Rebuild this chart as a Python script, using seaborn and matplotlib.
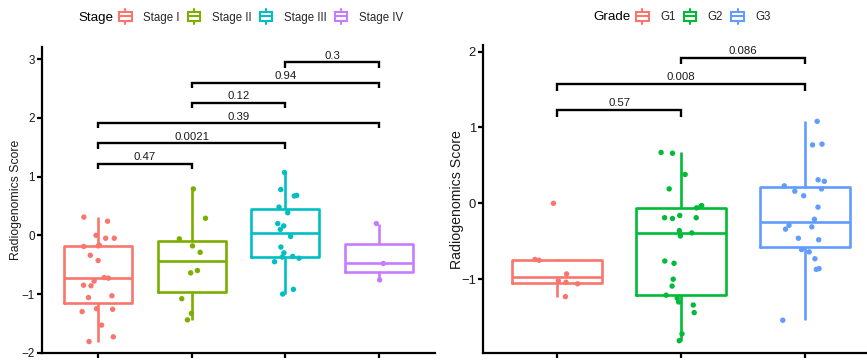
import numpy as np
import pandas as pd
import matplotlib
matplotlib.use("Agg")
import matplotlib.pyplot as plt
import seaborn as sns
from matplotlib.legend_handler import HandlerBase
from matplotlib.patches import Rectangle, Patch
from matplotlib.lines import Line2D

# ---- data -------------------------------------------------------------
stages = ["Stage I", "Stage II", "Stage III", "Stage IV"]
stage_colors = ["#F8766D", "#7CAE00", "#00BFC4", "#C77CFF"]
stage_i = [0.31, 0.24, 0.00, -0.05, -0.05, -0.17, -0.18, -0.19, -0.34, -0.43,
           -0.72, -0.73, -0.78, -0.85, -0.86, -1.03, -1.06, -1.25, -1.26,
           -1.30, -1.53, -1.73, -1.81]
stage_ii = [0.79, 0.29, -0.06, -0.18, -0.29, -0.60, -0.64, -1.08, -1.33, -1.44]
stage_iii = [1.07, 0.78, 0.68, 0.67, 0.48, 0.385, 0.20, 0.16, 0.10, -0.02,
             -0.20, -0.30, -0.36, -0.37, -0.39, -0.45, -0.92, -1.00]
stage_iv = [0.20, -0.48, -0.76]
stage_pairs = [("Stage I", "Stage II"), ("Stage I", "Stage III"),
               ("Stage I", "Stage IV"), ("Stage II", "Stage III"),
               ("Stage II", "Stage IV"), ("Stage III", "Stage IV")]
stage_pvals = ["0.47", "0.0021", "0.39", "0.12", "0.94", "0.3"]

grades = ["G1", "G2", "G3"]
grade_colors = ["#F8766D", "#00BA38", "#619CFF"]
grade_g1 = [0.00, -0.74, -0.75, -0.93, -1.02, -1.04, -1.06, -1.23]
grade_g2 = [0.67, 0.66, 0.38, 0.19, -0.03, -0.04, -0.06, -0.16, -0.19, -0.19,
            -0.20, -0.36, -0.39, -0.43, -0.76, -0.79, -1.00, -1.09, -1.21,
            -1.25, -1.30, -1.34, -1.44, -1.72, -1.81]
grade_g3 = [1.08, 0.78, 0.77, 0.31, 0.29, 0.23, 0.19, 0.16, 0.10, -0.05,
            -0.21, -0.29, -0.31, -0.34, -0.46, -0.48, -0.61, -0.64, -0.73,
            -0.86, -0.87, -1.54]
grade_pairs = [("G1", "G2"), ("G1", "G3"), ("G2", "G3")]
grade_pvals = ["0.57", "0.008", "0.086"]

# ---- style ------------------------------------------------------------
sns.set_style("white")
plt.rcParams["font.family"] = ["Liberation Sans", "DejaVu Sans"]
np.random.seed(7)

W, H = 867, 363
fig = plt.figure(figsize=(W / 100, H / 100), dpi=100)

AX_LW = 1.6


class BoxKey(HandlerBase):
    """Legend key drawn as a tiny box-and-whisker glyph."""

    def create_artists(self, legend, orig_handle, xdescent, ydescent,
                       width, height, fontsize, trans):
        c = orig_handle.get_edgecolor()
        cx = -xdescent + width / 2
        cy = -ydescent + height / 2
        bw, bh, wh = 8.8, 6.8, 11.4
        lw = 1.5
        rect = Rectangle((cx - bw / 2, cy - bh / 2), bw, bh, fill=False,
                         edgecolor=c, lw=lw, transform=trans)
        med = Line2D([cx - bw / 2, cx + bw / 2], [cy, cy], color=c, lw=lw,
                     transform=trans)
        wt = Line2D([cx, cx], [cy + bh / 2, cy + wh / 2], color=c, lw=lw,
                    transform=trans)
        wb = Line2D([cx, cx], [cy - bh / 2, cy - wh / 2], color=c, lw=lw,
                    transform=trans)
        return [rect, med, wt, wb]


def draw_panel(ax, groups, values, colors, pairs, pvals, ylim, yticks,
               tick_fs, label_fs, label_x):
    df = pd.DataFrame({
        "group": np.repeat(groups, [len(v) for v in values]),
        "score": np.concatenate(values),
    })
    pal = dict(zip(groups, colors))
    sns.boxplot(data=df, x="group", y="score", hue="group", order=groups,
                hue_order=groups, palette=pal, fill=False, width=0.73,
                linewidth=1.9, showfliers=False, legend=False,
                capprops={"visible": False}, ax=ax)
    sns.stripplot(data=df, x="group", y="score", hue="group", order=groups,
                  hue_order=groups, palette=pal, jitter=0.18, size=3.9,
                  linewidth=0, legend=False, zorder=3, ax=ax)

    # significance brackets stacked above the tallest value
    base = df["score"].max() + 0.15
    step, drop = 0.345, 0.09
    for k, ((a, b), p) in enumerate(zip(pairs, pvals)):
        y = base + k * step
        xa, xb = groups.index(a), groups.index(b)
        ax.plot([xa, xa, xb, xb], [y - drop, y, y, y - drop], color="black",
                lw=1.7, solid_joinstyle="miter", solid_capstyle="butt",
                clip_on=False, zorder=4)
        ax.annotate(p, xy=((xa + xb) / 2, y), xytext=(0, 2.6),
                    textcoords="offset points", ha="center", va="baseline",
                    fontsize=8.2, color="#1a1a1a")

    ax.set_xlim(-0.6, len(groups) - 0.4)
    ax.set_ylim(*ylim)
    ax.set_yticks(yticks)
    ax.set_yticklabels([f"{t:g}".replace("-", "\u2212") for t in yticks])
    ax.set_xticks(range(len(groups)))
    ax.set_xticklabels([])
    ax.set_xlabel("")
    ax.set_ylabel("Radiogenomics Score", fontsize=label_fs, color="#1a1a1a")
    ax.yaxis.set_label_coords(label_x, 0.5)
    for s in ["top", "right"]:
        ax.spines[s].set_visible(False)
    for s in ["left", "bottom"]:
        ax.spines[s].set_linewidth(AX_LW)
        ax.spines[s].set_color("black")
    ax.tick_params(axis="both", length=3.5, width=AX_LW, color="black",
                   labelsize=tick_fs, labelcolor="#1a1a1a", pad=1.5,
                   left=True, bottom=True)
    ax.grid(False)


def px_axes(x0, y0, x1, y1):
    return fig.add_axes([x0 / W, 1 - y1 / H, (x1 - x0) / W, (y1 - y0) / H])


ax1 = px_axes(42, 47.3, 435, 353)
draw_panel(ax1, stages, [stage_i, stage_ii, stage_iii, stage_iv],
           stage_colors, stage_pairs, stage_pvals, (-2.005, 3.203),
           [-2, -1, 0, 1, 2, 3], 8.4, 8.8, (22.5 - 42) / 393)

ax2 = px_axes(483, 45, 879, 353.3)
draw_panel(ax2, grades, [grade_g1, grade_g2, grade_g3], grade_colors,
           grade_pairs, grade_pvals, (-1.976, 2.086), [-1, 0, 1, 2],
           9.4, 10.2, (464 - 483) / 396)


def add_legend(title, labels, colors, title_x, keys_x, yc=17.5):
    fig.text(title_x / W, 1 - yc / H, title, fontsize=9.6, va="center",
             ha="left", color="black")
    handles = [Patch(edgecolor=c, facecolor="none") for c in colors]
    fig.legend(handles, labels, loc="center left",
               bbox_to_anchor=(keys_x / W, 1 - yc / H), ncol=len(labels),
               frameon=False, borderpad=0, borderaxespad=0,
               handlelength=1.47, handleheight=0.8, handletextpad=0.8,
               columnspacing=0.52, fontsize=8.3,
               handler_map={Patch: BoxKey()})


add_legend("Stage", stages, stage_colors, 78, 117)
add_legend("Grade", grades, grade_colors, 593, 634)

fig.savefig("out.png", dpi=100)
